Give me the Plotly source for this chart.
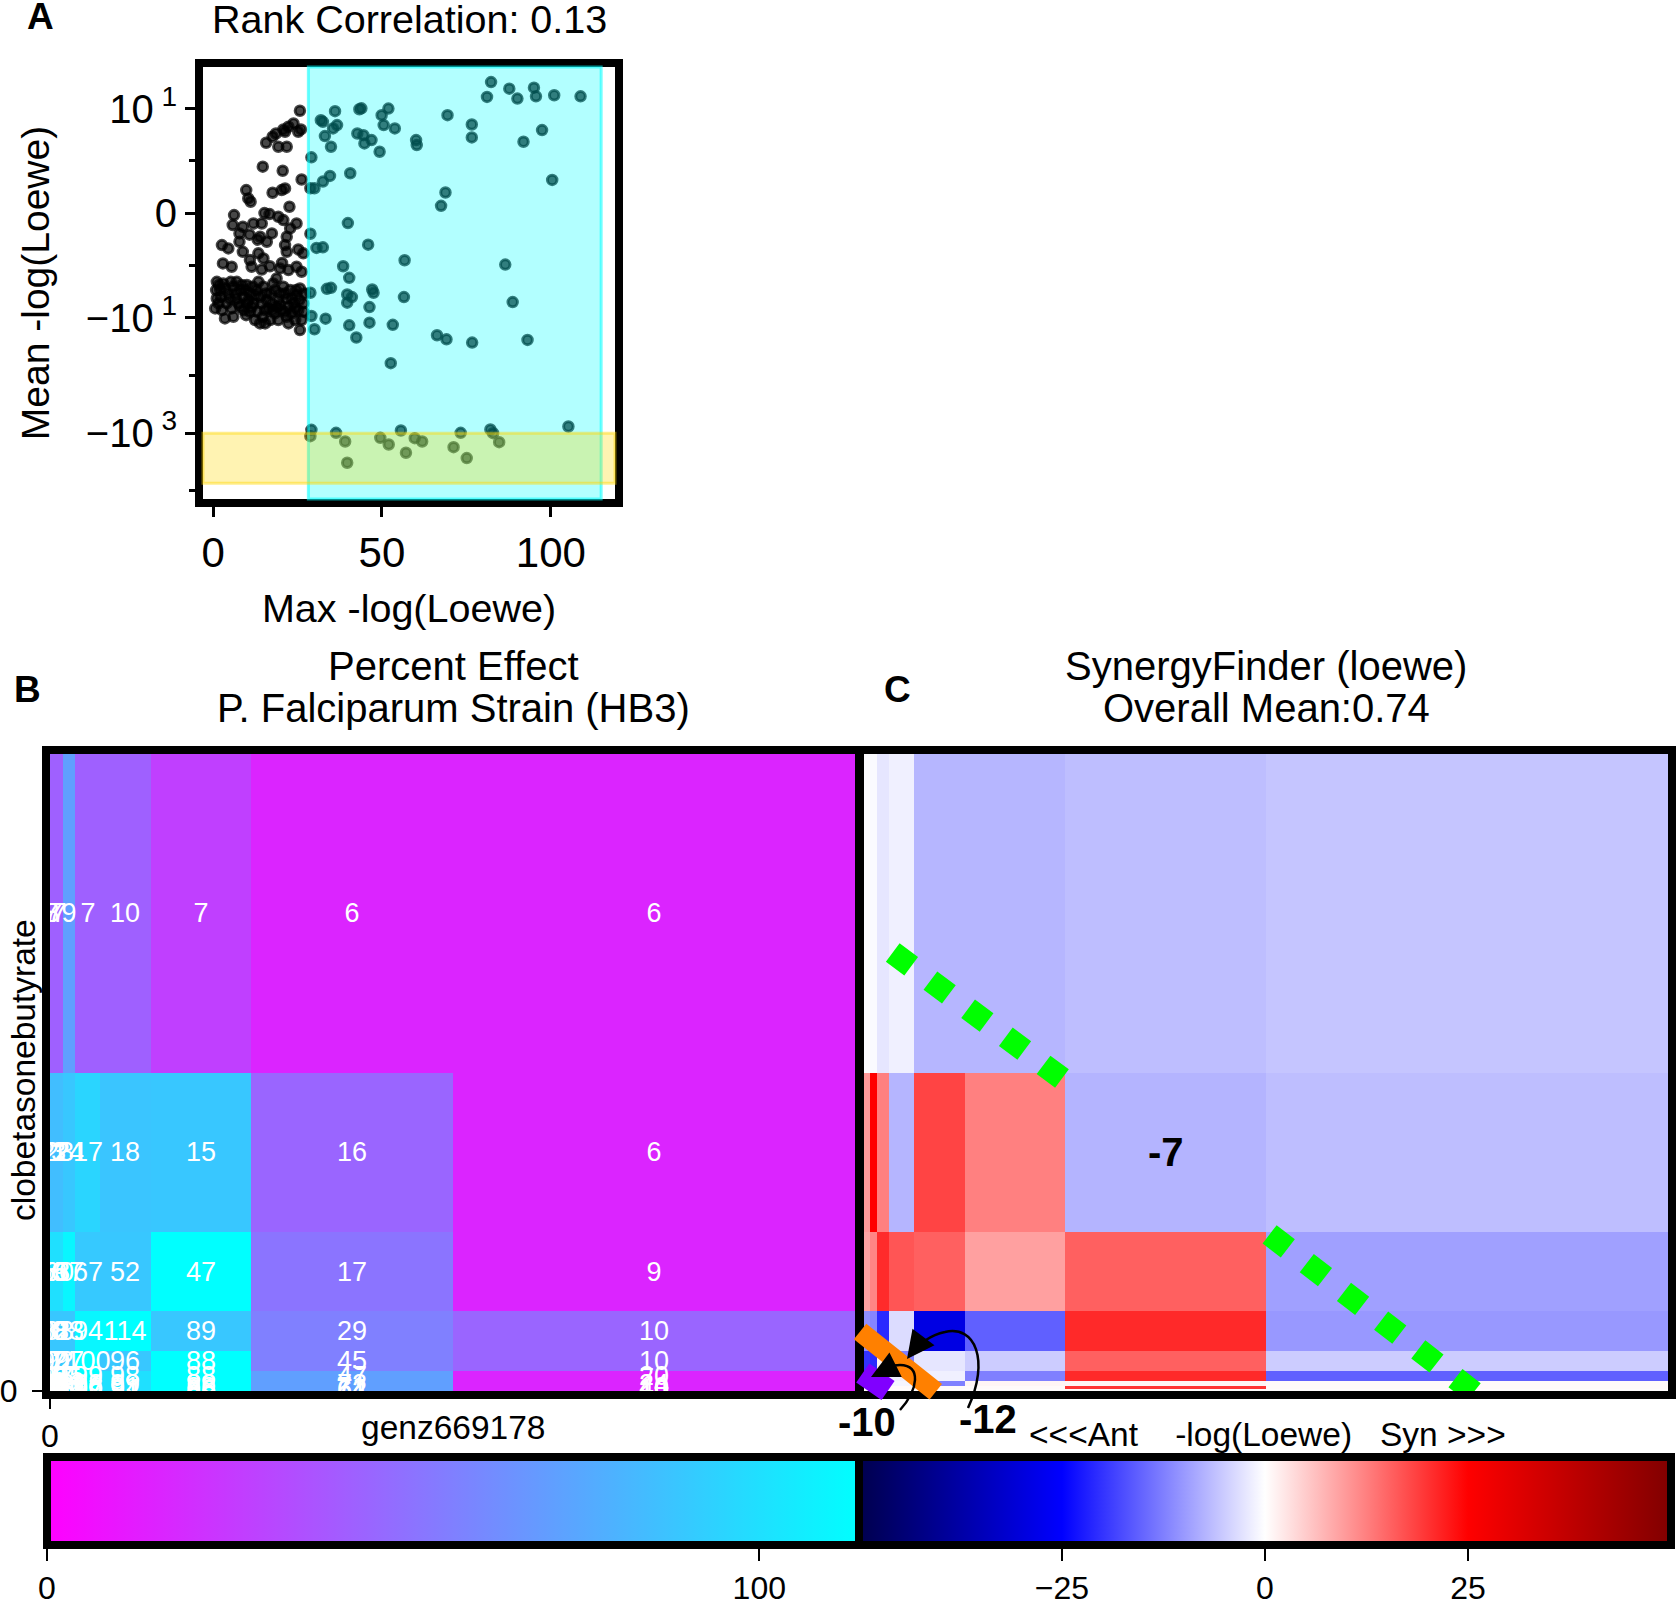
import numpy as np
import plotly.graph_objects as go

W, H = 1678, 1602
FONT = "Liberation Sans, Arial, Helvetica, sans-serif"

# ---------------- Panel A : Max vs Mean -log(Loewe) ----------------
max_neglog_loewe = [
    25.7, 23.8, 22.3, 20.8, 21.3, 18.6, 17.6, 19.3, 21.8, 15.7, 26.0, 25.2,
    14.7, 20.6, 26.2, 21.3, 20.3, 17.6, 9.8, 10.4, 11.1, 22.6, 6.2, 5.8,
    16.7, 14.4, 11.9, 8.8, 7.8, 19.3, 20.8, 24.7, 22.8, 17.4, 13.9, 15.9,
    21.8, 7.8, 2.6, 4.5, 8.8, 13.4, 14.9, 21.3, 21.8, 25.2, 26.7, 10.9,
    11.4, 2.9, 5.5, 19.8, 22.3, 24.7, 26.2, 18.8,
    10.8, 13.2, 20.4, 16.8, 14.4, 15.2,
    1.1, 2.1, 3.0, 4.5, 6.0, 7.0, 8.0, 9.0, 10.0, 10.9, 11.9, 12.9, 13.9,
    14.9, 15.9, 16.9, 17.8, 18.8, 19.8, 20.8, 21.8, 22.8, 23.8, 24.7, 25.7,
    26.7, 1.6, 2.6, 4.0, 5.5, 7.5, 9.0, 10.9, 12.4, 13.9, 15.4, 16.9, 18.3,
    20.3, 21.8, 23.3, 25.2, 26.2, 25.7, 27.2, 0.6, 3.5, 6.0, 10.0, 15.4,
    16.4, 19.3, 22.3, 24.3,
    1.77, 3.55, 5.22, 6.51, 8.48, 9.46, 10.45, 11.73, 12.42, 13.41, 14.39,
    15.68, 17.35, 18.34, 19.33, 21.3, 22.28, 23.27, 24.55, 25.54, 2.26, 4.83,
    6.8, 7.98, 9.76, 11.44, 13.11, 14.69, 17.65, 19.82, 21.3, 24.26, 26.72,
    0.88, 1.08,
    82.3, 81.1, 87.7, 90.1, 95.0, 95.6, 101.0, 108.8,
    69.4, 76.6, 76.6, 97.4, 91.9, 100.4, 68.8, 67.5, 86.5, 88.7, 66.3, 69.1,
    76.7, 93.1,
    36.1, 43.3, 43.9, 51.9, 49.9, 50.5, 53.8, 31.9, 32.5, 36.7, 35.5, 33.1,
    34.9, 42.7, 44.5, 44.8, 46.9, 49.3, 60.1, 60.3, 29.1, 34.6, 40.6, 32.5,
    30.0, 28.8,
    39.9, 28.8, 30.6, 32.5, 45.9, 56.7, 38.5, 40.3, 33.7, 34.9, 39.7, 41.1,
    39.7, 47.1, 47.5, 56.5, 46.3, 28.8, 29.1, 33.3, 40.3, 46.3, 53.2, 30.0,
    42.4, 52.6,
    29.1, 28.8, 36.4, 39.1, 39.7, 49.5, 52.0, 55.6, 57.1, 59.7, 61.9, 71.2,
    73.3, 75.1, 82.1, 82.9, 84.7, 105.2,
]
mean_neglog_loewe = [
    9.79, 8.58, 8.26, 8.01, 7.78, 7.62, 7.31, 6.35, 6.35, 6.73, 8.01, 7.78,
    4.44, 4.05, 3.22, 2.36, 2.20, 1.95, 2.20, 1.41, 1.09, 0.61, -0.19, -1.14,
    -0.09, -0.99, -0.99, -1.30, -1.94, -0.35, -0.67, -0.99, -1.46, -1.94, -2.26, -2.74,
    -2.26, -2.74, -3.06, -3.38, -3.70, -3.85, -4.33, -3.06, -3.70, -3.47, -3.85, -4.49,
    -5.13, -4.81, -5.13, -5.29, -5.45, -5.13, -5.61, -6.25,
    -2.06, -2.54, -4.76, -5.08, -5.40, 0.0,
    -6.57, -7.36, -6.73, -7.68, -7.04, -6.57, -7.36, -8.00, -6.88, -7.68, -8.64, -7.36, -8.00,
    -7.04, -8.32, -7.68, -6.73, -8.96, -7.68, -7.04, -8.16, -7.36, -8.64, -7.84, -7.20,
    -8.64, -8.64, -9.28, -8.64, -9.12, -8.64, -9.28, -9.44, -11.0, -12.6, -12.6, -11.0, -9.59,
    -9.28, -9.91, -9.59, -9.28, -11.0, -16.4, -7.68, -9.12, -10.3, -9.91, -8.64, -9.28,
    -9.12, -11.0, -12.6, -11.0,
    -6.88, -7.20, -6.57, -7.68, -6.88, -7.36, -8.32, -7.04, -7.84, -6.57, -8.64,
    -7.68, -8.64, -7.36, -8.32, -7.68, -8.96, -8.16, -7.36, -8.32, -8.00, -8.16,
    -8.16, -8.96, -9.76, -8.96, -9.44, -9.91, -9.28, -8.80, -9.44, -9.12, -9.44,
    -7.36, -8.16,
    28.8, 15.9, 22.1, 14.9, 23.0, 16.3, 17.0, 16.3,
    9.37, 8.48, 7.24, 7.94, 6.83, 3.18, 1.97, 0.70, -4.92, -8.51, -20.2, -23.7,
    -27.0, -24.3,
    9.75, 9.94, 10.1, 10.0, 9.37, 8.42, 8.10, 8.89, 8.73, 8.42, 8.10, 7.37,
    6.35, 7.62, 7.46, 6.67, 6.99, 5.87, 6.99, 6.51, 5.34, 3.56, 3.81, 3.02,
    2.38, 2.38,
    -0.95, -1.97, -3.33, -3.27, -3.02, -4.51, -5.08, -6.19, -7.24, -7.15, -7.78, -8.03,
    -8.57, -7.30, -7.62, -8.03, -8.99, -7.62, -9.84, -10.4, -13.6, -12.2, -13.3, -15.9,
    -22.1, -61.4,
    -877, -1127, -988, -1393, -3251, -1205, -1570, -900, -2183, -1222, -1393, -1746,
    -988, -2700, -865, -1000, -1432, -767,
]
rank_correlation = 0.13
cyan_region_max = [28.2, 114.9]      # highlighted Max -log(Loewe) span
yellow_region_mean = [-1000, -7400]  # highlighted Mean -log(Loewe) span

# ---------------- Panels B / C : dose-response matrices ----------------
genz669178_conc_edges = [0, 1, 2, 4, 8, 16, 32, 64, 128, 256, 512]
clobetasone_conc_edges = [0, 1, 2, 4, 8, 16, 32, 64, 128, 256, 512]

# rows listed from highest clobetasonebutyrate dose (top) to lowest (bottom)
effect_colour_rows = [
    [43, 43, 43, 43, 71, 43, 43, 28, 16, 16],
    [85, 85, 85, 85, 89, 95, 88, 89, 45, 16],
    [100, 100, 100, 100, 110, 90, 89, 114, 52, 16],
    [89, 89, 89, 89, 89, 110, 114, 89, 57, 45],
    [89, 89, 89, 89, 89, 114, 89, 114, 57, 45],
    [100, 100, 100, 100, 100, 114, 100, 114, 71, 16],
    [100, 100, 100, 100, 100, 114, 100, 114, 71, 16],
    [100, 100, 100, 100, 100, 114, 100, 114, 71, 16],
    [100, 100, 100, 100, 100, 114, 100, 114, 71, 16],
    [100, 100, 100, 100, 100, 114, 100, 114, 71, 16],
]
effect_label_rows = [
    [7, 8, 7, 7, 9, 7, 10, 7, 6, 6],
    [23, 21, 22, 23, 24, 17, 18, 15, 16, 6],
    [56, 59, 53, 60, 57, 67, 52, 47, 17, 9],
    [80, 88, 82, 83, 88, 94, 114, 89, 29, 10],
    [97, 92, 90, 92, 97, 100, 96, 88, 45, 10],
    [96, 99, 91, 97, 95, 99, 98, 88, 47, 20],
    [94, 95, 93, 92, 96, 98, 99, 86, 72, 24],
    [96, 90, 92, 93, 97, 96, 91, 88, 71, 40],
    [91, 97, 98, 96, 93, 99, 94, 86, 64, 10],
    [92, 94, 98, 95, 96, 97, 91, 86, 62, 10],
]
synergy_rows = [
    [-0.3, -0.3, -0.3, -0.5, -2.5, -1.5, -7.2, -7.2, -6.4, -5.7],
    [10, 10, 10, 25, 12.5, -7.3, 18.3, 12.5, -7.4, -6.4],
    [9, 9, 9, 12, 20.8, 16.7, 15.6, 9.3, 15.6, -9.3],
    [-11, -11, -11, -12, -21, -3.4, -29, -15.6, 21, -10.1],
    [-20, -20, -20, -21, 1.5, -12.5, -2.5, -5, 15.6, -5],
    [3, 3, 3, 3, 3, -1.5, -1.5, -12.5, 21, -15.6],
    [1, 1, 1, 1, 2, -1, -12.5, 1, 1, 0.5],
    [0.5, 0.5, 0.5, 0.5, 0.5, 0.5, 0.5, 0.5, 20, 0.5],
    [0.3, 0.3, 0.3, 0.3, 0.3, 0.3, 0.3, 0.3, 0.3, 0.3],
    [0.3, 0.3, 0.3, 0.3, 0.3, 0.3, 0.3, 0.3, 0.3, 0.3],
]
overall_mean = 0.74
effect_range = [0, 114]
synergy_range = [-50, 50]

iso_line1_x = [18.3, 126.7]
iso_line1_y = [352.4, 250.5]
iso_line2_x = [258.3, 390.3]
iso_line2_y = [125.9, -3.0]
orange_x = [-2.5, 45.7]
orange_y = [47.8, -0.6]
orange_label = "-12"
purple_x = [-0.8, 15.3]
purple_y = [14.5, 0.4]
purple_label = "-10"

# ---------------- helpers ----------------
SYM_T = 10.0
SYM_LIN = 1.81


def symlog(v):
    v = np.asarray(v, dtype=float)
    a = np.abs(v)
    lin = v / SYM_T * SYM_LIN
    lg = np.sign(v) * (SYM_LIN + np.log10(np.maximum(a, SYM_T) / SYM_T))
    return np.where(a <= SYM_T, lin, lg)


def fx(p):
    return p / W


def fy(p):
    return 1 - p / H


cool_r = [[0, "rgb(255,0,255)"], [1, "rgb(0,255,255)"]]
seismic = [[0, "rgb(0,0,77)"], [0.25, "rgb(0,0,255)"], [0.5, "rgb(255,255,255)"],
           [0.75, "rgb(255,0,0)"], [1, "rgb(128,0,0)"]]

fig = go.Figure()

# Panel A scatter
fig.add_trace(go.Scatter(
    x=max_neglog_loewe, y=symlog(mean_neglog_loewe), mode="markers",
    marker=dict(size=9.5, color="rgba(0,0,0,0.72)", line=dict(width=3, color="rgba(0,0,0,0.72)")),
    xaxis="x", yaxis="y", hoverinfo="skip"))

cb_common = dict(orientation="h", y=fy(1457), yanchor="top", len=812, lenmode="pixels",
                 thickness=88, thicknessmode="pixels", outlinewidth=8, outlinecolor="black",
                 xpad=0, ypad=0, xanchor="center", ticks="outside", ticklen=12, tickwidth=2,
                 tickcolor="black", tickfont=dict(size=32, family=FONT, color="black"))

# Panel B heatmap
fig.add_trace(go.Heatmap(
    x=genz669178_conc_edges, y=clobetasone_conc_edges,
    z=effect_colour_rows[::-1], text=effect_label_rows[::-1], texttemplate="%{text}",
    textfont=dict(size=27, color="white", family=FONT),
    colorscale=cool_r, zmin=effect_range[0], zmax=effect_range[1],
    xaxis="x2", yaxis="y2", hoverinfo="skip",
    colorbar=dict(x=fx(453), tickvals=[0, 100], **cb_common)))

# Panel C heatmap
fig.add_trace(go.Heatmap(
    x=genz669178_conc_edges, y=clobetasone_conc_edges, z=synergy_rows[::-1],
    colorscale=seismic, zmin=synergy_range[0], zmax=synergy_range[1],
    xaxis="x3", yaxis="y3", hoverinfo="skip",
    colorbar=dict(x=fx(1265), tickvals=[-25, 0, 25], ticktext=["\u221225", "0", "25"],
                  **cb_common)))

for lx, ly in [(iso_line1_x, iso_line1_y), (iso_line2_x, iso_line2_y)]:
    fig.add_trace(go.Scatter(x=lx, y=ly, mode="lines", xaxis="x3", yaxis="y3",
                             line=dict(color="#00ff00", width=23, dash="23px,24px"),
                             hoverinfo="skip"))

axis_common = dict(showline=True, linewidth=8, linecolor="black", mirror=True,
                   showgrid=False, zeroline=False)

layout = dict(
    width=W, height=H, margin=dict(l=0, r=0, t=0, b=0, autoexpand=False),
    paper_bgcolor="white", plot_bgcolor="white", showlegend=False,
    font=dict(family=FONT, color="black"),
    xaxis=dict(domain=[fx(203), fx(615)], range=[-3, 119], anchor="y",
               tickvals=[0, 50, 100], ticks="outside", ticklen=10, tickwidth=3,
               tickcolor="black", tickfont=dict(size=42),
               title=dict(text="Max -log(Loewe)", font=dict(size=39.5), standoff=22),
               **axis_common),
    yaxis=dict(domain=[fy(499), fy(67)], range=[-4.95, 2.53], anchor="x",
               tickvals=list(symlog([10, 0, -10, -1000])),
               ticktext=["10<sup> 1</sup>", "0", "\u221210<sup> 1</sup>", "\u221210<sup> 3</sup>"],
               ticks="outside", ticklen=10, tickwidth=3, tickcolor="black",
               tickfont=dict(size=40),
               title=dict(text="Mean -log(Loewe)", font=dict(size=39), standoff=27),
               minor=dict(tickmode="array", tickvals=list(symlog([5, -5, -100, -10000])),
                          ticks="outside", ticklen=6, tickwidth=3, tickcolor="black"),
               **axis_common),
    xaxis2=dict(domain=[fx(50), fx(855)], range=[0, 512], anchor="y2",
                tickvals=[0], ticktext=["0"], ticks="outside", ticklen=10, tickwidth=2,
                tickcolor="black", tickfont=dict(size=32), **axis_common),
    yaxis2=dict(domain=[fy(1391), fy(754)], range=[0, 512], anchor="x2",
                tickvals=[0], ticktext=["0"], ticks="outside", ticklen=10, tickwidth=2,
                tickcolor="black", tickfont=dict(size=32), ticklabelstandoff=8, **axis_common),
    xaxis3=dict(domain=[fx(864), fx(1668)], range=[0, 512], anchor="y3",
                showticklabels=False, ticks="", **axis_common),
    yaxis3=dict(domain=[fy(1391), fy(754)], range=[0, 512], anchor="x3",
                showticklabels=False, ticks="", **axis_common),
)

XR = layout["xaxis3"]["range"]
YR = layout["yaxis3"]["range"]


def dom(v, rng):
    return (v - rng[0]) / (rng[1] - rng[0])


shapes = [
    dict(type="rect", xref="x", yref="y domain", x0=cyan_region_max[0], x1=cyan_region_max[1],
         y0=0, y1=1, fillcolor="rgba(0,255,255,0.3)",
         line=dict(color="rgba(0,255,255,0.55)", width=3), layer="above"),
    dict(type="rect", xref="x domain", yref="y", x0=0, x1=1,
         y0=float(symlog(yellow_region_mean[0])), y1=float(symlog(yellow_region_mean[1])),
         fillcolor="rgba(255,215,0,0.3)", line=dict(color="rgba(255,215,0,0.45)", width=3),
         layer="above"),
]
# thick bars in panel C (drawn over the frame like the reference)
for bx, by, col, wid in [(orange_x, orange_y, "#ff8000", 20), (purple_x, purple_y, "#8000ff", 23)]:
    shapes.append(dict(type="line", xref="x3 domain", yref="y3 domain",
                       x0=dom(bx[0], XR), x1=dom(bx[1], XR), y0=dom(by[0], YR), y1=dom(by[1], YR),
                       line=dict(color=col, width=wid), layer="above"))


def curve(pts):
    (x0, y0), rest = pts[0], pts[1:]
    s = f"M {fx(x0)} {fy(y0)}"
    for i in range(0, len(rest), 3):
        s += " C " + ", ".join(f"{fx(a)} {fy(b)}" for a, b in rest[i:i + 3])
    return s


arrow12 = [(968, 1408), (990, 1360), (975, 1325), (945, 1332), (930, 1335), (918, 1345), (912, 1352)]
arrow10 = [(900, 1410), (918, 1390), (922, 1365), (900, 1365), (890, 1365), (882, 1370), (878, 1373)]
for pts in (arrow12, arrow10):
    shapes.append(dict(type="path", xref="paper", yref="paper", path=curve(pts),
                       line=dict(color="black", width=2.5), layer="above"))
layout["shapes"] = shapes


def ann(text, x, y, size, angle=0, bold=False):
    return dict(text=f"<b>{text}</b>" if bold else text, x=fx(x), y=fy(y), xref="paper", yref="paper",
                xanchor="center", yanchor="middle", showarrow=False, textangle=angle,
                font=dict(size=size, family=FONT, color="black"))


annotations = [
    ann("A", 40, 16, 37, bold=True),
    ann("B", 27, 690, 37, bold=True),
    ann("C", 897, 690, 37, bold=True),
    ann(f"Rank Correlation: {rank_correlation:.2f}", 409, 19, 39.5),
    ann("Percent Effect", 453, 666, 40),
    ann("P. Falciparum Strain (HB3)", 453, 708, 40),
    ann("SynergyFinder (loewe)", 1266, 666, 40),
    ann(f"Overall Mean:{overall_mean:.2f}", 1266, 708, 40),
    ann("genz669178", 453, 1427, 33.5),
    ann("clobetasonebutyrate", 23, 1070, 33.5, angle=-90),
    ann("&lt;&lt;&lt;Ant\u00a0\u00a0\u00a0\u00a0-log(Loewe)\u00a0\u00a0\u00a0Syn &gt;&gt;&gt;", 1267, 1434, 33.5),
    ann(purple_label, 867, 1422, 40, bold=True),
    ann(orange_label, 988, 1419, 40, bold=True),
]
# value label inside the synergy matrix (row 2 from top, column 9)
r, c = 1, 8
annotations.append(dict(
    text=f"<b>{round(synergy_rows[r][c]):d}</b>", xref="x3", yref="y3",
    x=(genz669178_conc_edges[c] + genz669178_conc_edges[c + 1]) / 2,
    y=(clobetasone_conc_edges[9 - r] + clobetasone_conc_edges[10 - r]) / 2,
    showarrow=False, font=dict(size=40, family=FONT, color="black")))
# arrow heads
for (tx, ty), (ax, ay) in [((907, 1359), (12, -16)), ((871, 1377), (18, -9))]:
    annotations.append(dict(text="", x=fx(tx), y=fy(ty), xref="paper", yref="paper",
                            ax=ax, ay=ay, axref="pixel", ayref="pixel", showarrow=True,
                            arrowhead=2, arrowsize=2.2, arrowwidth=2.5, arrowcolor="black"))
layout["annotations"] = annotations

fig.update_layout(**layout)
fig.write_html("out.html")
